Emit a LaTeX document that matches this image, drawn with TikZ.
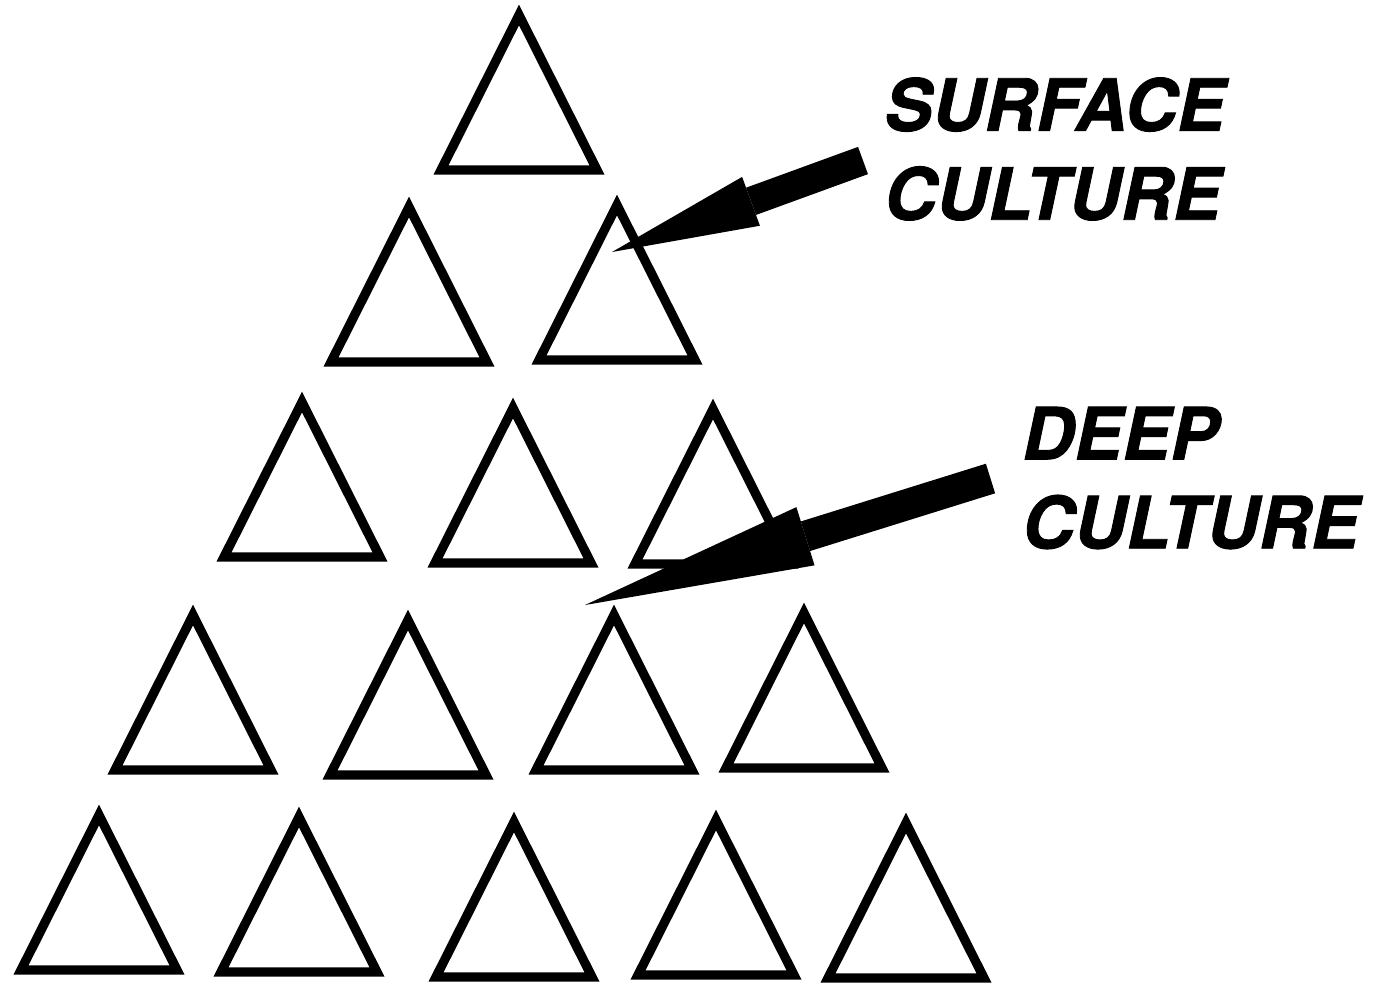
\documentclass[tikz,border=0pt]{standalone}
\usepackage{fontspec}
\setsansfont[FakeBold=1.2]{TeX Gyre Heros}
\usetikzlibrary{arrows.meta}
\tikzset{
  tri/.style={draw,line width=0.185cm,line join=miter},
  lbl/.style={font=\sffamily\bfseries\itshape\fontsize{41}{50.6}\selectfont,
              align=left,inner sep=0pt,anchor=west},
  surfarr/.style={line width=0.58cm,-{Triangle[length=2.96cm,width=1.04cm,line width=0pt]}},
  deeparr/.style={line width=0.62cm,-{Triangle[length=4.62cm,width=1.22cm,line width=0pt]}},
}

\begin{document}
\begin{tikzpicture}[x=0.02cm,y=-0.02cm]
  \useasboundingbox (0,0) rectangle (1376,985);
  % rows of triangles, apex x / apex y
  \foreach \ax/\ay in {519/5,
      409/197, 617/195,
      302/392, 513/398, 713/399,
      193/605, 408/610, 614/605, 804/603,
      99/805, 299/807, 514/812, 716/810, 906/813}
    \draw[tri] (\ax,\ay+10) -- (\ax-78,\ay+165) -- (\ax+78,\ay+165) -- cycle;

  % labels
  \node[lbl] (surface) at (884,149) {SURFACE\\CULTURE};
  \node[lbl] (deep) at (1022,478) {DEEP\\CULTURE};

  % arrows
  \coordinate (surftail) at (863,160.5);
  \coordinate (surftip) at (612,252);
  \coordinate (deeptail) at (990.5,478.5);
  \coordinate (deeptip) at (585,605);
  \draw[surfarr] (surftail) -- (surftip);
  \draw[deeparr] (deeptail) -- (deeptip);
\end{tikzpicture}
\end{document}
